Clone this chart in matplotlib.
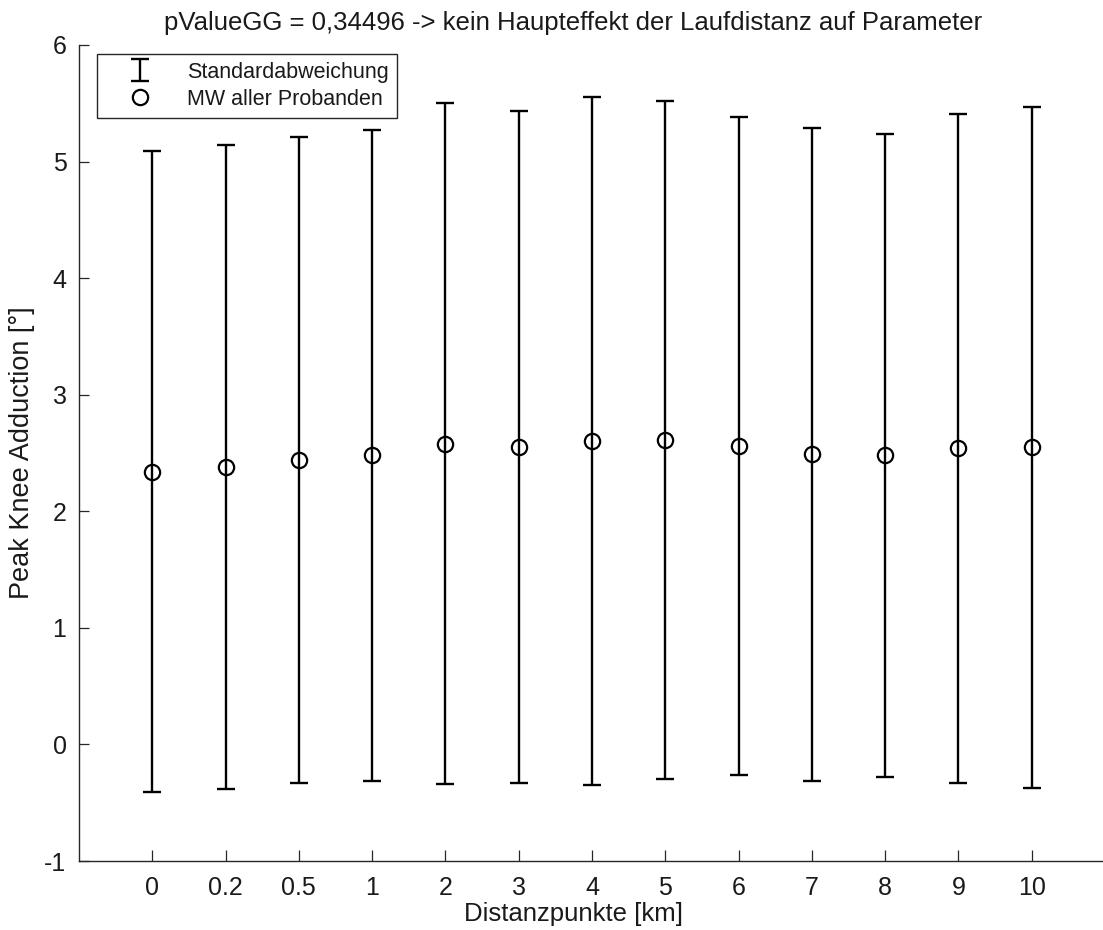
import matplotlib
matplotlib.use("Agg")
import matplotlib.pyplot as plt
import numpy as np

plt.rcParams['font.family'] = ['Liberation Sans', 'DejaVu Sans']
plt.rcParams['axes.unicode_minus'] = False

# Distance points and summary statistics
labels = ['0', '0.2', '0.5', '1', '2', '3', '4', '5', '6', '7', '8', '9', '10']
means = [2.34, 2.38, 2.44, 2.48, 2.58, 2.55, 2.60, 2.61, 2.56, 2.49, 2.48, 2.54, 2.55]
sds = [2.75, 2.76, 2.77, 2.79, 2.92, 2.88, 2.95, 2.91, 2.82, 2.80, 2.76, 2.87, 2.92]

title = 'pValueGG = 0,34496 -> kein Haupteffekt der Laufdistanz auf Parameter'

W, H = 1103, 930
fig = plt.figure(figsize=(W / 100, H / 100), dpi=100)
ax = fig.add_axes([79 / W, 69 / H, 1026 / W, 816 / H])

x = np.arange(1, len(labels) + 1)
txt = '#1a1a1a'

eb = ax.errorbar(x, means, yerr=sds, fmt='none', ecolor='black',
                 elinewidth=1.7, capsize=6.2, capthick=1.7,
                 label='Standardabweichung')
pts, = ax.plot(x, means, 'o', ms=11, mfc='none', mec='black', mew=1.6,
               label='MW aller Probanden')

ax.set_xlim(0, 14)
ax.set_ylim(-1, 6)
ax.set_xticks(x)
ax.set_xticklabels(labels)
ax.set_yticks(range(-1, 7))

for s in ['top', 'right']:
    ax.spines[s].set_visible(False)
for s in ['left', 'bottom']:
    ax.spines[s].set_color('#262626')
    ax.spines[s].set_linewidth(1.0)

ax.tick_params(axis='x', direction='in', length=8, width=0.9, color='#262626',
               labelsize=18, labelcolor=txt, pad=11)
ax.tick_params(axis='y', direction='in', length=7, width=0.9, color='#262626',
               labelsize=18, labelcolor=txt, pad=9)

ax.set_ylabel('Peak Knee Adduction [°]', fontsize=19.5, color=txt, labelpad=7)
fig.text(573 / W, 1 - 914 / H, 'Distanzpunkte [km]', ha='center', va='center',
         fontsize=18.5, color=txt)
fig.text(573 / W, 1 - 23 / H, title, ha='center', va='center',
         fontsize=18.5, color=txt)

leg = ax.legend(handles=[eb, pts], loc='upper left',
                bbox_to_anchor=(18 / 1026, 1 - 9 / 816),
                fontsize=15.5, frameon=True, fancybox=False,
                edgecolor='#262626', framealpha=1, borderpad=0.35,
                handlelength=3.3, handletextpad=0.55, labelspacing=0.3,
                borderaxespad=0)
leg.get_frame().set_linewidth(1.0)
for t in leg.get_texts():
    t.set_color(txt)

fig.savefig('out.png', dpi=100)
